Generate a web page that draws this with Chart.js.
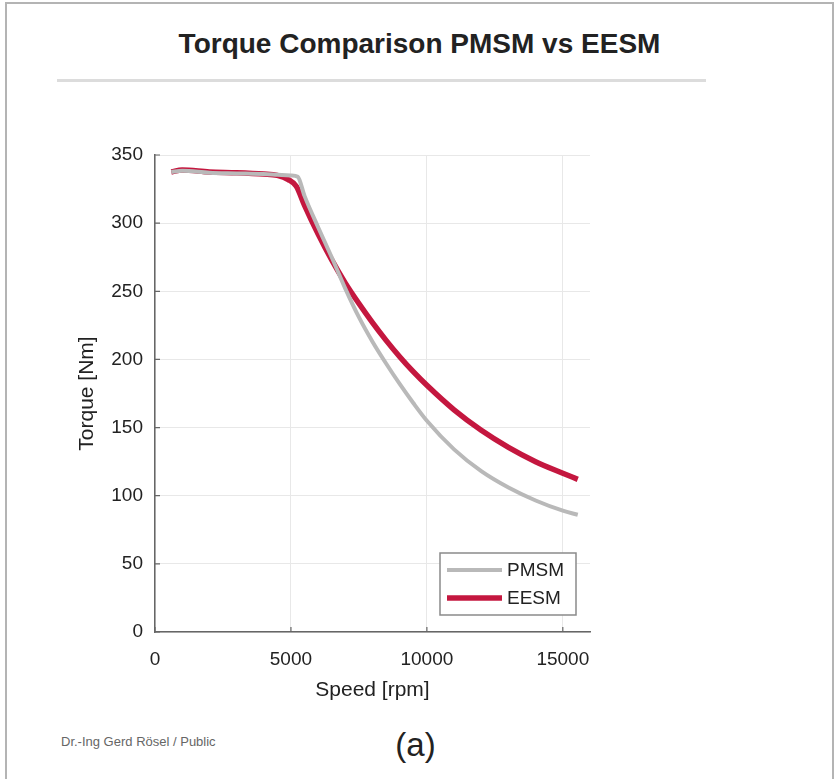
<!DOCTYPE html>
<html>
<head>
<meta charset="utf-8">
<script src="https://cdn.jsdelivr.net/npm/chart.js@4.4.1/dist/chart.umd.min.js"></script>
<style>
  html, body { margin: 0; padding: 0; background: #fff; }
  #page { position: relative; width: 839px; height: 779px; overflow: hidden; font-family: "Liberation Sans", Arial, sans-serif; }
  #frame { position: absolute; left: 5px; top: 2px; width: 829px; height: 800px; border: 2px solid #b4b4b4; box-sizing: border-box; }
  #title { position: absolute; left: 0; width: 839px; top: 28px; text-align: center; font-size: 28px; font-weight: bold; color: #222; }
  #rule { position: absolute; left: 57px; width: 649px; top: 79px; height: 3px; background: #dcdcdc; }
  #footer { position: absolute; left: 61px; top: 734px; font-size: 13px; color: #666; }
  #label { position: absolute; left: 0; width: 831px; top: 726px; text-align: center; font-size: 33px; color: #222; }
  canvas { position: absolute; left: 0; top: 0; }
</style>
</head>
<body>
<div id="page">
  <div id="frame"></div>
  <div id="title">Torque Comparison PMSM vs EESM</div>
  <div id="rule"></div>
  <div id="footer">Dr.-Ing Gerd Rösel / Public</div>
  <div id="label">(a)</div>
  <canvas id="chart" width="839" height="779"></canvas>
</div>
<script>
const seriesNames = ["PMSM", "EESM"];

const speedPmsm = [600, 1000, 2000, 3000, 4000, 4500, 5000, 5250, 5500, 6000, 6500, 7000, 7500, 8000, 8500, 9000, 9500, 10000, 11000, 12000, 13000, 14000, 15000, 15550];
const torquePmsm = [337.5, 338.5, 337, 336.5, 336, 335.5, 335, 334, 320, 297, 275, 252, 231, 213, 197, 182, 168, 155, 134, 118, 106, 96.5, 89, 86];

const speedEesm = [600, 1000, 2000, 3000, 4000, 4500, 4900, 5200, 5500, 6000, 6500, 7000, 7500, 8000, 8500, 9000, 9500, 10000, 11000, 12000, 13000, 14000, 15000, 15550];
const torqueEesm = [337.5, 339, 337.5, 337, 336, 335, 332, 327, 313, 292, 273, 256, 241, 227, 214, 202, 191, 181, 163, 148, 135.5, 125, 116.5, 112];

const xTicks = [0, 5000, 10000, 15000];
const yTicks = [0, 50, 100, 150, 200, 250, 300, 350];

const grayLine = "#b9b9b9";
const redLine = "#c4173f";
const axisColor = "#666";
const textColor = "#222";

const toPoints = (xs, ys) => xs.map((x, i) => ({ x: x, y: ys[i] }));

// matlab style inward tick marks
const innerTicks = {
  id: "innerTicks",
  afterDraw(chart) {
    const { ctx, chartArea, scales } = chart;
    ctx.save();
    ctx.strokeStyle = axisColor;
    ctx.lineWidth = 1.2;
    ctx.beginPath();
    xTicks.forEach(v => {
      const px = scales.x.getPixelForValue(v);
      ctx.moveTo(px, chartArea.bottom);
      ctx.lineTo(px, chartArea.bottom - 5);
    });
    yTicks.forEach(v => {
      const py = scales.y.getPixelForValue(v);
      ctx.moveTo(chartArea.left, py);
      ctx.lineTo(chartArea.left + 5, py);
    });
    ctx.stroke();
    ctx.restore();
  }
};

// legend box inside the plot, bottom right
const boxLegend = {
  id: "boxLegend",
  afterDraw(chart) {
    const { ctx, chartArea } = chart;
    const w = 136, h = 62;
    const left = chartArea.right - 150, top = chartArea.bottom - 79;
    ctx.save();
    ctx.fillStyle = "#fff";
    ctx.fillRect(left, top, w, h);
    ctx.strokeStyle = "#8a8a8a";
    ctx.lineWidth = 1.5;
    ctx.strokeRect(left, top, w, h);
    ctx.font = "19px 'Liberation Sans', Arial, sans-serif";
    ctx.textBaseline = "middle";
    chart.data.datasets.forEach((ds, i) => {
      const y = top + 17 + i * 28;
      ctx.strokeStyle = ds.borderColor;
      ctx.lineWidth = ds.borderWidth;
      ctx.beginPath();
      ctx.moveTo(left + 7, y);
      ctx.lineTo(left + 62, y);
      ctx.stroke();
      ctx.fillStyle = textColor;
      ctx.fillText(ds.label, left + 67, y + 1);
    });
    ctx.restore();
  }
};

new Chart(document.getElementById("chart"), {
  type: "line",
  data: {
    datasets: [
      {
        label: seriesNames[0],
        data: toPoints(speedPmsm, torquePmsm),
        borderColor: grayLine,
        borderWidth: 4,
        pointRadius: 0,
        cubicInterpolationMode: "monotone"
      },
      {
        label: seriesNames[1],
        data: toPoints(speedEesm, torqueEesm),
        borderColor: redLine,
        borderWidth: 5.5,
        pointRadius: 0,
        cubicInterpolationMode: "monotone"
      }
    ]
  },
  options: {
    responsive: false,
    animation: false,
    layout: { padding: { top: 155, right: 249, left: 0, bottom: 0 } },
    plugins: {
      legend: { display: false },
      tooltip: { enabled: false }
    },
    scales: {
      x: {
        type: "linear",
        min: 0,
        max: 16000,
        afterBuildTicks: s => { s.ticks = xTicks.map(v => ({ value: v })); },
        afterFit: s => { s.height = 147; },
        ticks: { color: textColor, font: { size: 19 }, padding: 16, maxRotation: 0, callback: v => String(v) },
        grid: { color: "#e8e8e8", drawTicks: false },
        border: { color: axisColor, width: 1.5 },
        title: {
          display: true,
          text: "Speed [rpm]",
          color: textColor,
          font: { size: 21 },
          padding: { bottom: 76 }
        }
      },
      y: {
        min: 0,
        max: 350,
        afterBuildTicks: s => { s.ticks = yTicks.map(v => ({ value: v })); },
        afterFit: s => { s.width = 155; },
        ticks: { color: textColor, font: { size: 19 }, padding: 12, callback: v => String(v) },
        grid: { color: "#e8e8e8", drawTicks: false },
        border: { color: axisColor, width: 1.5 },
        title: {
          display: true,
          text: "Torque [Nm]",
          color: textColor,
          font: { size: 21 },
          padding: { top: 75 }
        }
      }
    }
  },
  plugins: [innerTicks, boxLegend]
});
</script>
</body>
</html>
